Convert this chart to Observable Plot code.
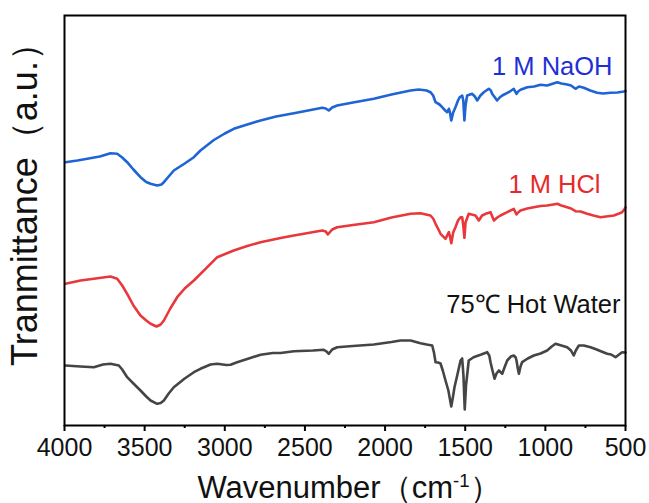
<!DOCTYPE html>
<html>
<head>
<meta charset="utf-8">
<script src="https://cdn.jsdelivr.net/npm/d3@7"></script>
<script src="https://cdn.jsdelivr.net/npm/@observablehq/plot@0.6"></script>
<style>
  html, body { margin: 0; padding: 0; background: #fff; }
</style>
</head>
<body>
<div id="chart"></div>
<script>
// ---- Data (wavenumber, transmittance in arbitrary units, curves offset) ----
const naohWn = [3994,3920,3858,3780,3713,3671,3640,3609,3570,3526,3490,3463,3422,3395,3380,3350,3318,3250,3193,3152,3068,3000,2944,2860,2777,2680,2569,2480,2392,2370,2351,2330,2299,2200,2070,1960,1841,1790,1740,1717,1700,1685,1660,1644,1625,1612,1602,1595,1587,1575,1561,1545,1534,1519,1512,1505,1498,1488,1456,1440,1425,1405,1384,1353,1340,1332,1301,1285,1269,1228,1197,1180,1170,1155,1113,1070,1030,989,950,926,900,864,840,812,790,760,720,677,640,594,550,510,500];
const naohT  = [263.3,265,266.7,269,272.3,271.7,268,263.3,256,248.3,243.5,241.7,240,241,243.3,249,255,262,268.3,275,285.5,292,296.7,301,305,309,312.3,315,317.7,317,315,318,320,323,326.7,331,335,336,335,333.3,330,323.3,321,318.3,315,313.3,316.7,313,305,313,318.3,325,328.3,330,325,305,320,330,331.7,329,325,330,333.3,336.7,335,331.7,325,328,330,333.3,336.7,331.7,334,335.7,338.3,339,340.7,340,342,343.3,342,341,340,336.7,339,337.7,335,332.7,332,332.7,333,334,334.5];

const hclWn = [3994,3900,3817,3760,3713,3671,3640,3609,3570,3526,3490,3463,3426,3400,3380,3340,3297,3250,3193,3120,3047,2944,2860,2777,2652,2569,2480,2392,2370,2357,2330,2299,2200,2070,1960,1841,1779,1717,1700,1685,1670,1654,1623,1602,1595,1587,1575,1561,1545,1529,1519,1512,1505,1498,1478,1436,1415,1395,1373,1342,1321,1300,1280,1238,1197,1180,1170,1155,1113,1072,1030,989,950,926,900,864,840,812,780,739,700,656,620,573,540,521,505,500];
const hclT  = [141.7,145,146.7,148,149,146.7,140,131.7,120,110,105,101.7,99,101,105,117,128.3,137,145,156.7,168.3,175,179.5,183.3,187.5,190,192.5,195,194,191,196,198.3,200.5,203.3,208,211.7,212.3,210,207,201.7,197,191.7,186.7,193.3,189,182.3,193,198.3,205,208.3,208.3,200,187.7,203,211.7,210,205,210,211.7,213.3,205,208,210,213.3,216.7,211,213,215,217,218.3,219.5,220,221,221.7,220,218.3,217,214.3,214,211.7,210,208.3,209,210,212,213.3,216.7,218];

const waterWn = [3994,3900,3817,3760,3713,3661,3640,3609,3570,3526,3490,3463,3422,3400,3380,3350,3318,3250,3193,3152,3089,3047,2990,2964,2923,2860,2777,2700,2652,2569,2450,2382,2365,2351,2330,2299,2200,2070,1960,1904,1841,1779,1740,1706,1695,1685,1670,1654,1640,1623,1605,1587,1575,1567,1550,1529,1519,1511,1503,1495,1478,1448,1400,1363,1350,1342,1330,1317,1305,1290,1269,1255,1238,1215,1197,1185,1180,1172,1165,1155,1145,1110,1072,1030,989,960,937,900,864,840,823,810,791,760,718,680,650,614,590,562,540,521,500];
const waterT  = [60,59,58.3,61,61.7,60,56,48.3,42,35,29,25,21.7,22.5,25,32,38.3,47,53.3,56.7,61,61.7,60.5,60.7,63.3,66.5,70.7,72.5,72.5,74.3,75,75.7,74,71.7,76,78.3,79.5,81,83.5,85,85,82.3,81,80,73,63.3,63,62,55,45,35,19,30,38.3,50,65,67,50,16,40,65,68.3,71,73.3,70,63.3,55,46.7,52,55,51.7,58,65,69,70,68,65,57,51.7,59,63.3,67,70,72,75,79,81.7,80,78.3,75,70,75,80,80,78.3,76,74,71.7,71,68.3,71,73.3,73];

const seriesNames = ["1 M NaOH", "1 M HCl", "75℃ Hot Water"];
const xTicks = [4000, 3500, 3000, 2500, 2000, 1500, 1000, 500];
const xMinorTicks = [3750, 3250, 2750, 2250, 1750, 1250, 750];
const xLabel = "Wavenumber（cm-1）";
const yLabel = "Tranmittance（a.u.）";

// ---- Build table ----
const rows = [];
[[naohWn, naohT, seriesNames[0]], [hclWn, hclT, seriesNames[1]], [waterWn, waterT, seriesNames[2]]]
  .forEach(([wn, t, name]) => wn.forEach((w, i) => rows.push({wn: w, t: t[i], series: name})));

const lineColors = {"1 M NaOH": "#1f64d4", "1 M HCl": "#e8383c", "75℃ Hot Water": "#454545"};
const textColors = {"1 M NaOH": "#1f2fd6", "1 M HCl": "#e62a2a", "75℃ Hot Water": "#111111"};

const font = "'Liberation Sans', Arial, Helvetica, sans-serif";
const labelSize = 25.5;

const chart = Plot.plot({
  width: 649,
  height: 503,
  marginLeft: 64,
  marginRight: 24,
  marginTop: 15,
  marginBottom: 78,
  style: {fontFamily: font, background: "#fff", color: "#111"},
  x: {domain: [4000, 500]},
  y: {domain: [0, 410], axis: null},
  marks: [
    Plot.line(rows, {x: "wn", y: "t", z: "series", stroke: d => lineColors[d.series], strokeWidth: 2.6, strokeLinejoin: "round"}),
    Plot.frame({stroke: "#000", strokeWidth: 2}),
    Plot.axisX(xTicks, {tickSize: 6, strokeWidth: 2, stroke: "#000", tickPadding: 7, fontSize: 25, tickFormat: d => String(d), label: null, fill: "#111"}),
    Plot.axisX(xMinorTicks, {tickSize: 3, strokeWidth: 2, stroke: "#000", tickFormat: () => "", label: null}),
    // series labels anchored to each series' right end and maximum
    Plot.text([seriesNames[0]], {x: d3.min(naohWn), y: d3.max(naohT), text: d => d, fill: textColors[seriesNames[0]], fontSize: labelSize, textAnchor: "end", lineAnchor: "bottom", dx: -13, dy: -7}),
    Plot.text([seriesNames[1]], {x: d3.min(hclWn), y: d3.max(hclT), text: d => d, fill: textColors[seriesNames[1]], fontSize: labelSize, textAnchor: "end", lineAnchor: "bottom", dx: -25, dy: -11}),
    Plot.text([seriesNames[2]], {x: d3.min(waterWn), y: d3.max(waterT), text: d => d, fill: textColors[seriesNames[2]], fontSize: labelSize, textAnchor: "end", lineAnchor: "bottom", dx: -5, dy: -28}),
    // axis titles
    Plot.text([xLabel], {frameAnchor: "bottom", text: d => d, fontSize: 31, textAnchor: "middle", lineAnchor: "bottom", dy: 72, dx: 4, fill: "#111", className: "xlabel"}),
    Plot.text([yLabel], {frameAnchor: "left", text: d => d, fontSize: 36, textAnchor: "middle", rotate: -90, dx: -39, dy: -25, fill: "#111"})
  ]
});

document.getElementById("chart").appendChild(chart);

// render the superscript in the x-axis title
d3.select(chart).selectAll(".xlabel text").each(function () {
  const t = d3.select(this);
  const s = t.text();
  const m = s.match(/^(.*cm)-1(.*)$/);
  if (m) {
    t.text(null);
    t.append("tspan").text(m[1]);
    t.append("tspan").attr("dy", "-0.55em").attr("font-size", "0.6em").text("-1");
    t.append("tspan").attr("dy", "0.33em").text(m[2]);
  }
});
</script>
</body>
</html>
